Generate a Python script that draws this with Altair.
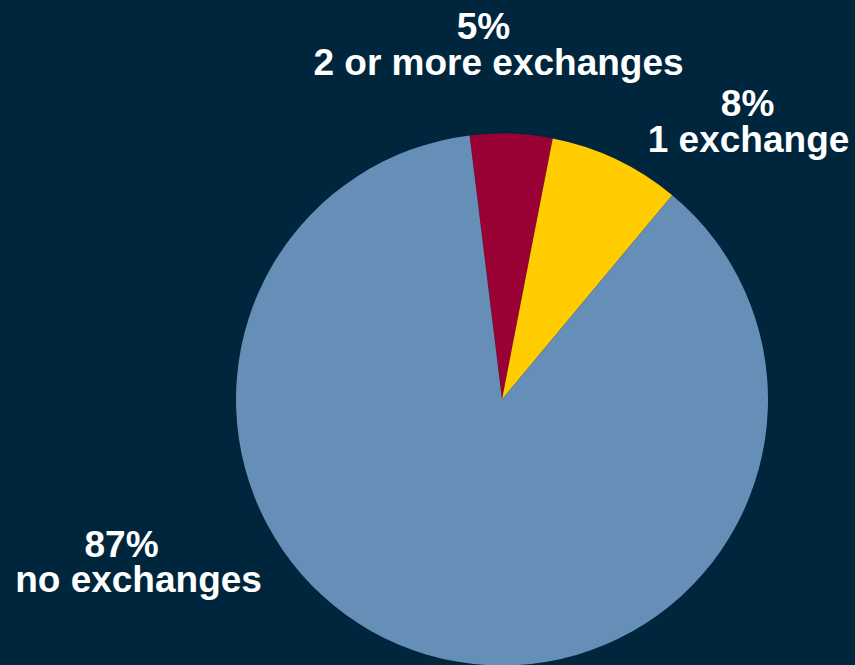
import math
import altair as alt
import pandas as pd

categories = ["2 or more exchanges", "1 exchange", "no exchanges"]
shares = [5, 8, 87]
colors = ["#990033", "#FFCC00", "#668FB8"]

df = pd.DataFrame({"idx": list(range(len(categories))), "category": categories, "share": shares})

BG = "#00263e"
CX, CY = 502, 399.5
start = math.radians(-7.0)
theta_scale = alt.Scale(range=[start, start + 2 * math.pi])

base = alt.Chart(df)

pie = base.mark_arc(outerRadius=266, stroke=None).encode(
    theta=alt.Theta("share:Q", stack=True, scale=theta_scale),
    color=alt.Color("category:N", scale=alt.Scale(domain=categories, range=colors), legend=None),
    order=alt.Order("idx:Q"),
    x=alt.value(CX),
    y=alt.value(CY),
)

# per-slice label placement: (radius, pct dx, pct dy, name dx, name dy)
label_style = {
    0: (330, -30, -31, -15, 5),
    1: (330, 104, 15, 105, 51),
    2: (200, -324, -34, -307, 1),
}

layers = [pie]
for i, (r, pdx, pdy, ndx, ndy) in label_style.items():
    t = (
        base.transform_window(cum="sum(share)", sort=[alt.SortField("idx")], frame=[None, 0])
        .transform_calculate(mid="datum.cum - datum.share / 2", pct="datum.share + '%'")
        .transform_filter(alt.datum.idx == i)
    )
    common = dict(font="Liberation Sans", fontWeight="bold", fontSize=37, color="white",
                  align="center", baseline="alphabetic", radius=r)
    enc = dict(theta=alt.Theta("mid:Q", stack=None, scale=theta_scale), x=alt.value(CX), y=alt.value(CY))
    layers.append(t.mark_text(dx=pdx, dy=pdy, **common).encode(text="pct:N", **enc))
    layers.append(t.mark_text(dx=ndx, dy=ndy, **common).encode(text="category:N", **enc))

chart = alt.layer(*layers).properties(
    width=855, height=665, autosize=alt.AutoSizeParams(type="none"), padding=0, background=BG
).configure_view(stroke=None)

chart.save("out.html", embed_options={"renderer": "svg", "actions": False})
